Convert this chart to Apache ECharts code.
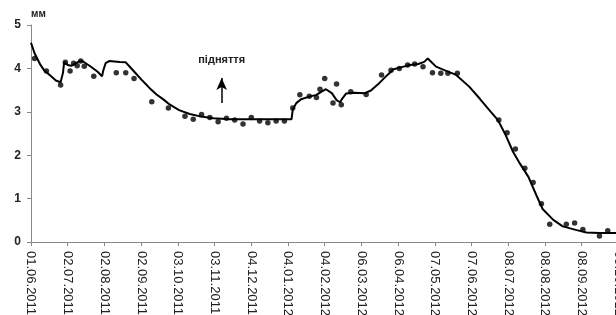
<!DOCTYPE html>
<html>
<head>
<meta charset="utf-8">
<script src="https://cdn.jsdelivr.net/npm/echarts@6/dist/echarts.min.js"></script>
<style>
  html, body { margin: 0; padding: 0; background: #fff; }
  #main { width: 616px; height: 315px; }
</style>
</head>
<body>
<div id="main"></div>
<script>
// day index from 01.06.2011, ticks every 31 days
var tickLabels = ['01.06.2011', '02.07.2011', '02.08.2011', '02.09.2011', '03.10.2011', '03.11.2011',
  '04.12.2011', '04.01.2012', '04.02.2012', '06.03.2012', '06.04.2012', '07.05.2012',
  '07.06.2012', '08.07.2012', '08.08.2012', '08.09.2012', '09.10.2012'];

// model curve [day, mm]
var curveData = [[0,4.59],[3,4.35],[8,4.08],[11,3.96],[17,3.82],[21,3.72],[25,3.68],[27,3.9],[28,4.14],
  [31,4.08],[34,4.06],[38,4.12],[41,4.17],[44,4.16],[50,4.05],[56,3.93],[60,3.82],[61,3.95],[63,4.12],
  [66,4.17],[75,4.15],[80,4.14],[83,4.05],[88,3.9],[94,3.72],[100,3.55],[106,3.4],[112,3.28],[117,3.17],
  [125,3.04],[134,2.95],[142,2.9],[154,2.85],[168,2.83],[190,2.83],[220,2.83],[221,3.05],[224,3.2],
  [228,3.29],[235,3.35],[241,3.39],[245,3.46],[249,3.52],[254,3.43],[258,3.27],[261,3.22],[263,3.31],
  [266,3.42],[273,3.44],[282,3.43],[287,3.49],[294,3.66],[301,3.85],[306,3.98],[313,4.03],[320,4.08],
  [327,4.1],[332,4.15],[335,4.23],[342,4.04],[350,3.95],[359,3.85],[370,3.58],[379,3.3],[387,3.04],
  [393,2.85],[396,2.72],[401,2.45],[407,2.08],[413,1.8],[420,1.5],[427,1.06],[432,0.76],[441,0.51],
  [449,0.36],[460,0.28],[469,0.22],[480,0.21],[494,0.21],[510,0.21]];

// measured points [day, mm]
var measured = [[3,4.23],[13,3.94],[25,3.62],[29,4.14],[33,3.94],[36,4.12],[39,4.06],[42,4.17],[45,4.05],
  [53,3.82],[72,3.9],[80,3.9],[87,3.77],[102,3.23],[116,3.09],[130,2.9],[137,2.83],[144,2.94],[151,2.87],
  [158,2.77],[165,2.85],[172,2.81],[179,2.72],[186,2.87],[193,2.79],[200,2.75],[207,2.79],[214,2.79],
  [221,3.09],[227,3.39],[235,3.36],[241,3.33],[244,3.52],[248,3.77],[255,3.2],[258,3.64],[262,3.16],
  [270,3.46],[283,3.4],[296,3.85],[304,3.96],[311,4.0],[318,4.08],[324,4.1],[331,4.04],[339,3.9],
  [346,3.89],[352,3.89],[360,3.89],[395,2.81],[402,2.52],[409,2.14],[417,1.7],[424,1.37],[431,0.88],
  [438,0.41],[452,0.41],[459,0.44],[466,0.29],[480,0.14],[487,0.26]];

var arrowFrom = [161, 3.2];
var arrowTo = [161, 3.78];
var arrowText = 'підняття';

var chartDom = document.getElementById('main');
var myChart = echarts.init(chartDom);
var option;

option = {
  animation: false,
  textStyle: { fontFamily: 'Liberation Sans, Arial, sans-serif' },
  grid: { left: 31, top: 25, bottom: 73, width: 604, containLabel: false, outerBoundsMode: 'none' },
  xAxis: {
    type: 'value',
    min: 0,
    max: 510,
    interval: 31,
    axisLine: { lineStyle: { color: '#888', width: 1 } },
    axisTick: { show: true, length: 4, lineStyle: { color: '#888' } },
    splitLine: { show: false },
    axisLabel: {
      rotate: -90,
      fontSize: 13,
      color: '#222',
      margin: 9,
      showMaxLabel: false,
      formatter: function (v) {
        var i = Math.round(v / 31);
        return tickLabels[i] || '';
      }
    }
  },
  yAxis: {
    type: 'value',
    min: 0,
    max: 5,
    interval: 1,
    name: 'мм',
    nameLocation: 'end',
    nameGap: 6,
    nameTextStyle: { fontSize: 10, fontWeight: 'bold', color: '#222', align: 'left' },
    axisLine: { show: true, lineStyle: { color: '#888', width: 1 } },
    axisTick: { show: true, length: 4, lineStyle: { color: '#888' } },
    splitLine: { show: false },
    axisLabel: { fontSize: 12, fontWeight: 'bold', color: '#222', margin: 10 }
  },
  series: [
    {
      name: 'curve',
      type: 'line',
      data: curveData,
      showSymbol: false,
      lineStyle: { color: '#000', width: 2 },
      markLine: {
        silent: true,
        symbol: ['none', 'arrow'],
        symbolSize: [8, 12],
        lineStyle: { color: '#000', width: 1.5, type: 'solid' },
        label: {
          show: true,
          position: 'end',
          distance: 12,
          formatter: arrowText,
          fontSize: 11,
          fontWeight: 'bold',
          color: '#222'
        },
        data: [[{ coord: arrowFrom }, { coord: arrowTo }]]
      }
    },
    {
      name: 'measured',
      type: 'scatter',
      data: measured,
      symbol: 'circle',
      symbolSize: 5.5,
      itemStyle: { color: '#000' }
    }
  ]
};

option && myChart.setOption(option);
</script>
</body>
</html>
